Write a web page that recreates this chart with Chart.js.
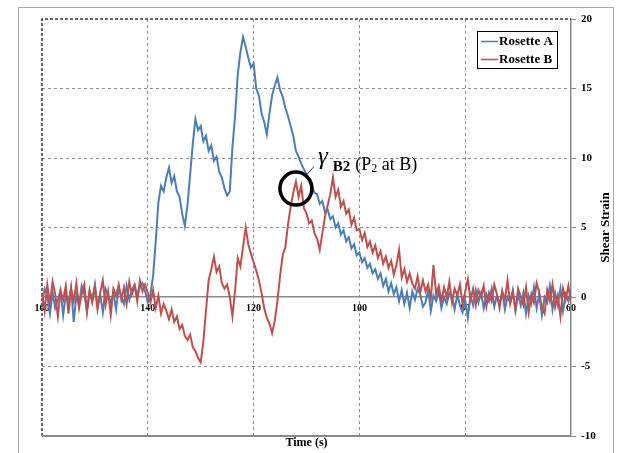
<!DOCTYPE html>
<html>
<head>
<meta charset="utf-8">
<script src="https://cdn.jsdelivr.net/npm/chart.js@4.4.1/dist/chart.umd.min.js"></script>
<style>
  html, body { margin: 0; padding: 0; background: #ffffff; }
  #wrap { width: 625px; height: 453px; position: relative; }
</style>
</head>
<body>
<div id="wrap"><canvas id="c" width="625" height="453"></canvas></div>
<script>
// ---- data ----
const times = [
  160,159.5,159,158.5,158,157.5,157,156.5,156,155.5,
  155,154.5,154,153.5,153,152.5,152,151.5,151,150.5,
  150,149.5,149,148.5,148,147.5,147,146.5,146,145.5,
  145,144.5,144,143.5,143,142.5,142,141.5,141,140.5,
  140,139.5,139,138.5,138,137.5,137,136.5,136,135.5,
  135,134.5,134,133.5,133,132.5,132,131.5,131,130.5,
  130,129.5,129,128.5,128,127.5,127,126.5,126,125.5,
  125,124.5,124,123.5,123,122.5,122,121.5,121,120.5,
  120,119.5,119,118.5,118,117.5,117,116.5,116,115.5,
  115,114.5,114,113.5,113,112.5,112,111.5,111,110.5,
  110,109.5,109,108.5,108,107.5,107,106.5,106,105.5,
  105,104.5,104,103.5,103,102.5,102,101.5,101,100.5,
  100,99.5,99,98.5,98,97.5,97,96.5,96,95.5,
  95,94.5,94,93.5,93,92.5,92,91.5,91,90.5,
  90,89.5,89,88.5,88,87.5,87,86.5,86,85.5,
  85,84.5,84,83.5,83,82.5,82,81.5,81,80.5,
  80,79.5,79,78.5,78,77.5,77,76.5,76,75.5,
  75,74.5,74,73.5,73,72.5,72,71.5,71,70.5,
  70,69.5,69,68.5,68,67.5,67,66.5,66,65.5,
  65,64.5,64,63.5,63,62.5,62,61.5,61,60.5,
  60
];

const rosetteA = [
  -0.5, 0.6, 0.1, -1.2, 0.3, -0.8, -0.2, 0.5, -1.3, 0.2,
  -0.4, 0.7, -1.8, 0.1, -0.6, 0.8, 0.2, -1.0, 0.4, -0.2,
  0.9, -0.7, 0.2, -1.1, 0.6, 0.1, -0.4, 0.3, -0.9, 0.7,
  0.0, -0.5, 0.8, -0.2, 0.5, 0.9, 0.1, 0.7, 1.0, 0.4,
  -0.4, 0.2, 1.5, 4.0, 6.8, 8.0, 7.6, 8.6, 9.3, 8.2,
  8.7, 7.6, 7.2, 6.0, 5.1, 6.6, 8.8, 11.0, 12.8, 12.0,
  12.3, 11.2, 11.6, 10.5, 10.9, 9.8, 10.1, 9.0, 8.6, 7.8,
  7.3, 7.6, 10.8, 13.0, 16.0, 17.6, 18.7, 18.0, 17.2, 16.5,
  16.8, 15.0, 14.5, 13.2, 12.6, 11.7, 13.2, 14.5, 15.2, 15.8,
  14.9, 14.4, 13.6, 13.0, 12.3, 11.6, 10.5, 10.1, 9.6, 9.2,
  8.8, 8.3, 8.0, 7.5, 7.4, 6.7, 6.9, 6.1, 6.3, 5.6,
  5.8, 5.0, 5.3, 4.5, 4.8, 4.0, 4.3, 3.5, 3.8, 3.0,
  3.2, 2.5, 2.8, 2.1, 2.4, 1.7, 2.0, 1.3, 1.7, 0.8,
  1.3, 0.4, 1.0, 0.2, 0.7, -0.3, 0.5, -0.5, 0.3, -0.8,
  0.4, -0.2, 0.6, 0.2, -0.7, -0.4, 0.5, -1.0, 0.1, -0.3,
  0.4, -0.8, 0.0, -0.5, 0.3, 0.1, -0.9, 0.2, -0.6, -1.1,
  -0.2, -1.5, 0.1, -0.6, 0.5, -0.4, 0.3, -0.8, 0.2, -0.3,
  0.6, -0.7, 0.1, -0.5, 0.4, -0.9, 0.0, -0.4, 0.5, -1.0,
  0.2, -0.6, 0.3, -1.2, 0.1, -0.5, 0.7, -0.8, 0.2, -1.3,
  0.0, -0.4, 0.8, -0.9, 0.3, -0.6, 0.6, -1.0, 0.2, -0.3,
  0.5
];

const rosetteB = [
  0.3, -1.0, 0.9, -0.5, 1.1, 0.2, -1.4, 0.4, -0.2, 0.8,
  -1.2, 0.6, -0.3, 1.0, -0.8, 0.2, 0.9, -1.1, 0.5, -0.4,
  0.7, -0.9, 0.3, 1.2, -0.6, 0.4, -1.3, 0.6, 0.1, 0.9,
  -0.2, 0.7, -0.5, 1.1, 0.2, 0.8, -0.3, 1.2, 0.4, 0.9,
  0.3, -0.4, 0.5, -0.8, 0.1, -1.2, -0.5, -1.0, -1.6, -0.9,
  -1.8, -1.4, -2.3, -2.0, -2.8, -3.1, -2.7, -3.6, -3.9, -4.4,
  -4.7, -3.2, -1.0, 1.2, 2.0, 2.9, 1.8, 2.2, 1.0, 0.6,
  0.9, 0.0, -1.4, 0.5, 2.8, 2.2, 3.6, 5.0, 3.8, 3.1,
  2.5, 1.9, 1.2, 0.3, -0.8, -1.5, -1.9, -2.6, -1.7, -0.3,
  1.5, 3.0, 3.6, 5.2, 6.5, 7.5, 8.3, 7.2, 8.0, 6.4,
  6.0, 5.3, 5.5, 4.6, 4.2, 3.4, 4.6, 5.8, 6.6, 7.4,
  8.6, 7.2, 7.7, 6.5, 6.9, 6.0, 6.3, 5.2, 5.7, 4.8,
  4.9, 4.1, 4.6, 3.6, 4.0, 3.2, 3.7, 2.8, 3.3, 2.4,
  2.9, 2.1, 2.6, 1.6, 2.3, 3.4, 1.4, 2.0, 1.1, 1.7,
  1.0, 0.6, 1.5, 0.3, 1.2, 0.4, 0.9, -0.1, 2.3, 0.2,
  0.8, -0.3, 0.7, 0.0, 1.1, -0.4, 0.6, 0.1, 0.9, -0.5,
  0.4, 1.3, -0.2, 0.6, -0.6, 0.5, 0.0, 0.8, -0.7, 0.3,
  -0.3, 0.9, 0.2, -0.8, 0.4, -0.2, 1.2, -0.5, 0.3, -0.9,
  0.6, 0.0, -0.6, 0.7, -1.1, 0.2, -0.4, 1.0, 0.3, -0.8,
  -1.2, 0.5, -0.3, 0.9, -0.7, 0.1, -1.4, 0.6, -0.2, 0.8,
  -0.4
];

const xTicks = [160, 140, 120, 100, 80, 60];
const yTicks = [20, 15, 10, 5, 0, -5, -10];
const seriesNames = ['Rosette A', 'Rosette B'];
const xTitle = 'Time (s)';
const yTitle = 'Shear Strain';
// annotated point (γB2, P2 at B)
const markTime = 112;
const markStrain = 7.8;

// ---- chart ----
const SERIF = '"Liberation Serif", "Times New Roman", "DejaVu Serif", serif';
const BLUE = '#4a7ebb';
const RED = '#c0504d';

function toPoints(vals) { return times.map((t, i) => ({ x: t, y: vals[i] })); }

const decor = {
  id: 'decor',
  beforeDraw(chart) {
    const { ctx, width, height } = chart;
    ctx.save();
    ctx.fillStyle = '#ffffff';
    ctx.fillRect(0, 0, width, height);
    ctx.strokeStyle = '#a8a8a8';
    ctx.lineWidth = 1;
    ctx.strokeRect(18.5, 7.5, 595, 470);
    ctx.restore();
  },
  beforeDatasetsDraw(chart) {
    const { ctx, chartArea: a } = chart;
    ctx.save();
    ctx.strokeStyle = '#3a3a3a';
    ctx.lineWidth = 1.5;
    ctx.setLineDash([3, 2]);
    ctx.beginPath();
    ctx.moveTo(a.left, a.bottom);
    ctx.lineTo(a.left, a.top);
    ctx.lineTo(a.right, a.top);
    ctx.stroke();
    ctx.setLineDash([]);
    ctx.strokeStyle = '#8a8a8a';
    ctx.lineWidth = 2;
    ctx.beginPath();
    ctx.moveTo(a.left, a.bottom);
    ctx.lineTo(a.right, a.bottom);
    ctx.stroke();
    ctx.restore();
  },
  afterDraw(chart) {
    const { ctx, chartArea: a } = chart;
    const xs = chart.scales.x, ys = chart.scales.y;
    ctx.save();
    // axis titles
    ctx.fillStyle = '#000';
    ctx.font = 'bold 12px ' + SERIF;
    ctx.textAlign = 'center';
    ctx.textBaseline = 'middle';
    ctx.fillText(xTitle, (a.left + a.right) / 2, 443);
    ctx.save();
    ctx.translate(606, (a.top + a.bottom) / 2);
    ctx.rotate(-Math.PI / 2);
    ctx.font = 'bold 13px ' + SERIF;
    ctx.fillText(yTitle, 0, 0);
    ctx.restore();

    // legend box
    const lx = 477, ly = 31, lw = 80, lh = 37;
    ctx.fillStyle = '#fff';
    ctx.fillRect(lx, ly, lw, lh);
    ctx.strokeStyle = '#000';
    ctx.lineWidth = 1;
    ctx.strokeRect(lx + 0.5, ly + 0.5, lw, lh);
    ctx.font = 'bold 13px ' + SERIF;
    ctx.textAlign = 'left';
    ctx.textBaseline = 'middle';
    chart.data.datasets.forEach((ds, i) => {
      const yy = ly + 10.5 + i * 18;
      ctx.strokeStyle = ds.borderColor;
      ctx.lineWidth = 1.5;
      ctx.beginPath();
      ctx.moveTo(lx + 4, yy);
      ctx.lineTo(lx + 21, yy);
      ctx.stroke();
      ctx.fillStyle = '#000';
      ctx.fillText(ds.label, lx + 22, yy + 0.5);
    });

    // annotation circle + label
    const cx = xs.getPixelForValue(markTime);
    const cy = ys.getPixelForValue(markStrain);
    ctx.strokeStyle = '#000';
    ctx.lineWidth = 3.5;
    ctx.beginPath();
    ctx.ellipse(cx, cy, 16, 16.5, 0, 0, Math.PI * 2);
    ctx.stroke();
    ctx.lineWidth = 1;
    ctx.strokeStyle = '#333';
    ctx.beginPath();
    ctx.moveTo(cx + 11, cy - 14);
    ctx.lineTo(cx + 18, cy - 22);
    ctx.stroke();

    ctx.fillStyle = '#000';
    ctx.textBaseline = 'alphabetic';
    let tx = cx + 22;
    const base = cy - 25;
    ctx.font = 'italic 25px ' + SERIF;
    ctx.fillText('\u03b3', tx, base);
    tx += ctx.measureText('\u03b3').width + 5;
    ctx.font = 'bold 15px ' + SERIF;
    ctx.fillText('B2', tx, base + 7);
    tx += ctx.measureText('B2').width + 5;
    ctx.font = '18px ' + SERIF;
    ctx.fillText('(P', tx, base + 6);
    tx += ctx.measureText('(P').width;
    ctx.font = '12px ' + SERIF;
    ctx.fillText('2', tx, base + 8);
    tx += ctx.measureText('2').width;
    ctx.font = '18px ' + SERIF;
    ctx.fillText(' at B)', tx, base + 6);
    ctx.restore();
  }
};

new Chart(document.getElementById('c'), {
  type: 'line',
  data: {
    datasets: [
      { label: seriesNames[0], data: toPoints(rosetteA), borderColor: BLUE, backgroundColor: BLUE,
        borderWidth: 2, pointRadius: 0, tension: 0, order: 1 },
      { label: seriesNames[1], data: toPoints(rosetteB), borderColor: RED, backgroundColor: RED,
        borderWidth: 2, pointRadius: 0, tension: 0, order: 0 }
    ]
  },
  options: {
    responsive: false,
    animation: false,
    events: [],
    layout: { padding: { left: 42, top: 19, right: 0, bottom: 17 } },
    plugins: { legend: { display: false }, tooltip: { enabled: false }, title: { display: false } },
    scales: {
      x: {
        type: 'linear',
        reverse: true,
        min: 60, max: 160,
        position: { y: 0 },
        afterBuildTicks: (s) => { s.ticks = xTicks.map(v => ({ value: v })); },
        ticks: {
          color: '#000',
          padding: 5,
          maxRotation: 0,
          autoSkip: false,
          font: { family: SERIF, size: 10, weight: 'bold' }
        },
        grid: {
          color: (c) => (c.tick && (c.tick.value === 160 || c.tick.value === 60)) ? 'rgba(0,0,0,0)' : '#8f8f8f',
          lineWidth: 1,
          drawTicks: false
        },
        border: { display: true, color: '#8a8a8a', width: 1.5, dash: [3, 3] }
      },
      y: {
        type: 'linear',
        position: 'right',
        min: -10, max: 20,
        afterBuildTicks: (s) => { s.ticks = yTicks.map(v => ({ value: v })); },
        afterFit: (s) => { s.width = 54; },
        ticks: {
          color: '#000',
          padding: 5,
          font: { family: SERIF, size: 11, weight: 'bold' }
        },
        grid: {
          color: (c) => (c.tick && (c.tick.value === 20 || c.tick.value === -10 || c.tick.value === 0)) ? 'rgba(0,0,0,0)' : '#8f8f8f',
          lineWidth: 1,
          drawTicks: true,
          tickLength: 5,
          tickColor: '#8a8a8a'
        },
        border: { display: true, color: '#8a8a8a', width: 1.5, dash: [3, 3] }
      }
    }
  },
  plugins: [decor]
});
</script>
</body>
</html>
